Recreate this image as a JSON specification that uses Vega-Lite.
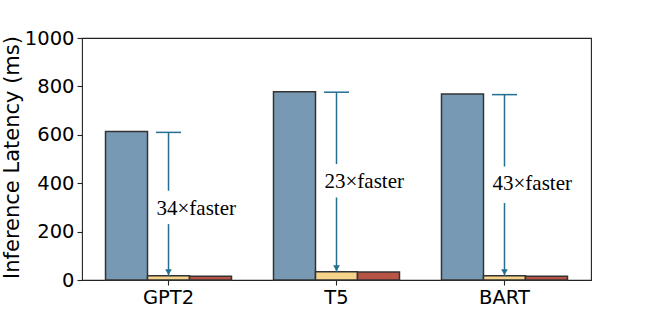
{
  "$schema": "https://vega.github.io/schema/vega-lite/v6.json",
  "width": 509,
  "height": 242,
  "autosize": {"type": "none"},
  "padding": {"left": 82, "top": 38, "right": 66, "bottom": 36},
  "config": {
    "view": {"stroke": "#222", "strokeWidth": 1.1},
    "axis": {
      "labelFont": "DejaVu Sans", "labelFontSize": 19.5, "labelColor": "#000",
      "titleFont": "DejaVu Sans", "titleFontSize": 21, "titleFontWeight": "normal", "titleColor": "#000",
      "tickColor": "#222", "tickSize": 5, "tickWidth": 1.1, "domain": false, "grid": false, "labelPadding": 3
    }
  },
  "datasets": {
    "bars": [
      {"model": "GPT2", "series": "A", "latency": 614},
      {"model": "GPT2", "series": "B", "latency": 18},
      {"model": "GPT2", "series": "C", "latency": 15},
      {"model": "T5", "series": "A", "latency": 778},
      {"model": "T5", "series": "B", "latency": 34},
      {"model": "T5", "series": "C", "latency": 33},
      {"model": "BART", "series": "A", "latency": 769},
      {"model": "BART", "series": "B", "latency": 18},
      {"model": "BART", "series": "C", "latency": 15}
    ],
    "notes": [
      {"model": "GPT2", "series": "B", "top": 610, "gapTop": 369, "gapBottom": 231, "end": 18, "labelAt": 294, "label": "34×faster"},
      {"model": "T5", "series": "B", "top": 776, "gapTop": 479, "gapBottom": 341, "end": 34, "labelAt": 407, "label": "23×faster"},
      {"model": "BART", "series": "B", "top": 766, "gapTop": 469, "gapBottom": 318, "end": 18, "labelAt": 396, "label": "43×faster"}
    ]
  },
  "encoding": {
    "x": {
      "field": "model", "type": "nominal",
      "scale": {"domain": ["GPT2", "T5", "BART"], "paddingInner": 0, "paddingOuter": 0.015},
      "axis": {"title": null, "labelAngle": 0}
    },
    "xOffset": {
      "field": "series", "type": "nominal",
      "scale": {"domain": ["A", "B", "C"], "paddingInner": 0, "paddingOuter": 0.5}
    }
  },
  "layer": [
    {
      "data": {"name": "bars"},
      "mark": {"type": "bar", "stroke": "#333", "strokeWidth": 1.5},
      "encoding": {
        "y": {
          "field": "latency", "type": "quantitative",
          "scale": {"domain": [0, 1000], "nice": false},
          "axis": {"title": "Inference Latency (ms)", "values": [0, 200, 400, 600, 800, 1000], "format": "d", "titleX": -70, "titleY": 119, "titleBaseline": "middle", "titleAlign": "center", "titleAngle": -90}
        },
        "color": {
          "field": "series", "type": "nominal",
          "scale": {"domain": ["A", "B", "C"], "range": ["#7799b4", "#f6d38b", "#b85445"]},
          "legend": null
        }
      }
    },
    {
      "data": {"name": "notes"},
      "mark": {"type": "tick", "color": "#246e92", "size": 25, "thickness": 1.5, "opacity": 1},
      "encoding": {"y": {"field": "top", "type": "quantitative"}}
    },
    {
      "data": {"name": "notes"},
      "mark": {"type": "rule", "color": "#246e92", "strokeWidth": 1.5},
      "encoding": {"y": {"field": "top", "type": "quantitative"}, "y2": {"field": "gapTop"}}
    },
    {
      "data": {"name": "notes"},
      "mark": {"type": "rule", "color": "#246e92", "strokeWidth": 1.5},
      "encoding": {"y": {"field": "gapBottom", "type": "quantitative"}, "y2": {"field": "end"}}
    },
    {
      "data": {"name": "notes"},
      "mark": {"type": "point", "shape": "triangle-down", "filled": true, "color": "#246e92", "size": 45, "opacity": 1, "yOffset": -3.5},
      "encoding": {"y": {"field": "end", "type": "quantitative"}}
    },
    {
      "data": {"name": "notes"},
      "mark": {"type": "text", "font": "Liberation Serif", "fontSize": 21, "align": "left", "baseline": "middle", "dx": -12, "color": "#000"},
      "encoding": {"y": {"field": "labelAt", "type": "quantitative"}, "text": {"field": "label"}}
    }
  ]
}
